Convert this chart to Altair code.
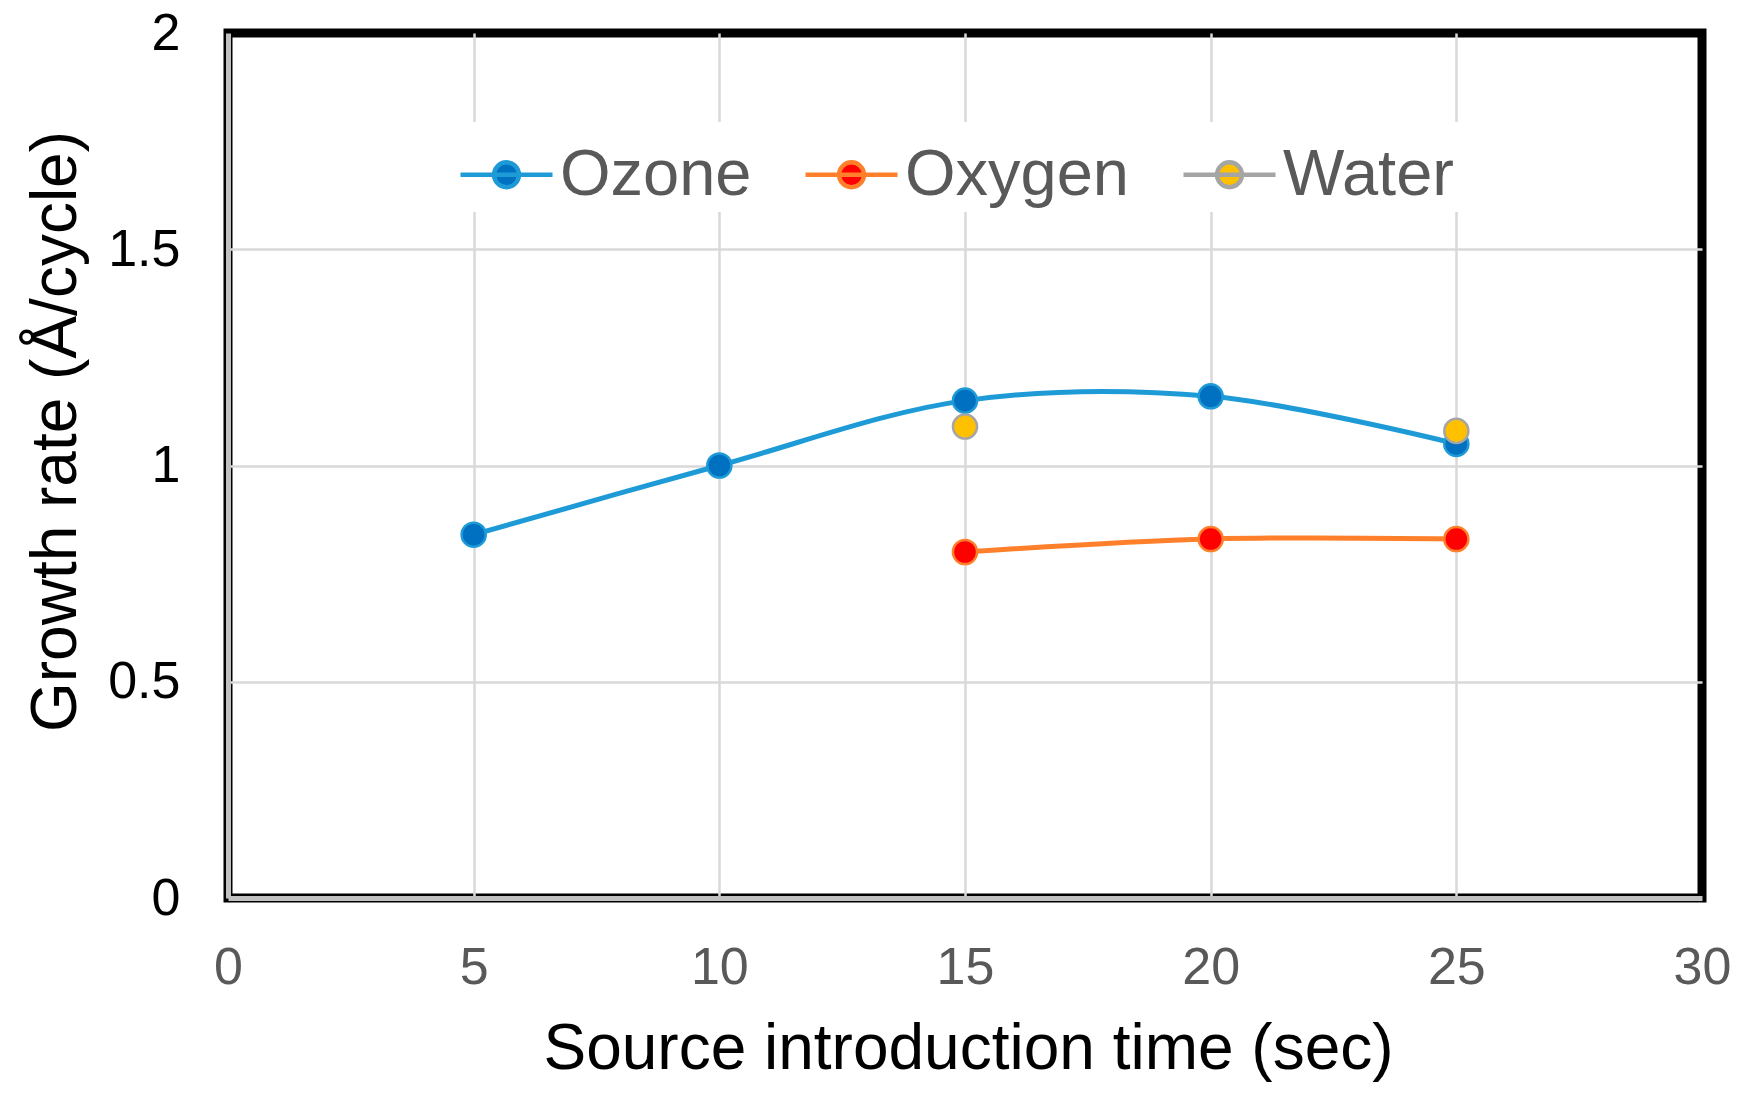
import altair as alt
import pandas as pd

# ---- data ----
x_vals = [5, 10, 15, 20, 25]
series_names = ["Ozone", "Oxygen", "Water"]
ozone = [0.84, 1.00, 1.15, 1.16, 1.05]
oxygen = [None, None, 0.80, 0.83, 0.83]
water = [None, None, 1.09, None, 1.08]

line_colors = ["#1e9bd7", "#ff7f2a", "#a5a5a5"]
marker_colors = ["#0070c0", "#ff0000", "#ffc000"]

x_ticks = [0, 5, 10, 15, 20, 25, 30]
y_ticks = [0, 0.5, 1, 1.5, 2]

rows = []
for name, vals in zip(series_names, [ozone, oxygen, water]):
    for xv, yv in zip(x_vals, vals):
        if yv is not None:
            rows.append({"series": name, "time": xv, "rate": yv})
df = pd.DataFrame(rows)

FONT = "Liberation Sans"
W, H = 1474, 865
GRID = "#d9d9d9"

legend_symbol = ("M-1,0L1,0 M0.27,0 A0.27,0.27 0 1,1 -0.27,0 "
                 "A0.27,0.27 0 1,1 0.27,0 Z")

leg = alt.Legend(
    title=None,
    orient="none",
    legendX=226,
    legendY=89,
    direction="horizontal",
    fillColor="white",
    padding=4,
    symbolType=legend_symbol,
    symbolSize=8464,
    symbolStrokeWidth=4.5,
    labelFontSize=65,
    labelFont=FONT,
    labelColor="#595959",
    labelOffset=5,
    labelLimit=0,
    columnPadding=44,
)

x_grid_color = alt.condition(
    "datum.value == 0 || datum.value == 30",
    alt.value("transparent"),
    alt.value(GRID),
)
y_grid_color = alt.condition(
    "datum.value == 0 || datum.value == 2",
    alt.value("transparent"),
    alt.value(GRID),
)

x_enc = alt.X(
    "time:Q",
    scale=alt.Scale(domain=[0, 30], nice=False),
    axis=alt.Axis(
        values=x_ticks,
        title="Source introduction time (sec)",
        titleFontSize=64,
        titleFont=FONT,
        titleFontWeight="normal",
        titleColor="black",
        titleBaseline="alphabetic",
        titleY=170,
        titleX=740,
        labelFontSize=52,
        labelFont=FONT,
        labelColor="#595959",
        labelBaseline="alphabetic",
        labelPadding=85,
        labelFlush=False,
        labelOverlap=False,
        ticks=False,
        tickSize=0,
        grid=True,
        gridColor=x_grid_color,
        gridWidth=2.5,
        domainColor="#c0c0c0",
        domainWidth=5,
    ),
)
y_enc = alt.Y(
    "rate:Q",
    scale=alt.Scale(domain=[0, 2], nice=False),
    axis=alt.Axis(
        values=y_ticks,
        format="~g",
        title="Growth rate (Å/cycle)",
        titleFontSize=64,
        titleFont=FONT,
        titleFontWeight="normal",
        titleColor="black",
        titleAngle=270,
        titleBaseline="alphabetic",
        titleAlign="center",
        titleX=-153,
        titleY=398,
        labelFontSize=52,
        labelFont=FONT,
        labelColor="black",
        labelPadding=48,
        labelFlush=False,
        labelOverlap=False,
        ticks=False,
        tickSize=0,
        grid=True,
        gridColor=y_grid_color,
        gridWidth=2.5,
        domainColor="#c0c0c0",
        domainWidth=5,
    ),
)

stroke_enc = alt.Stroke(
    "series:N",
    scale=alt.Scale(domain=series_names, range=line_colors),
    legend=leg,
)
fill_enc = alt.Fill(
    "series:N",
    scale=alt.Scale(domain=series_names, range=marker_colors),
    legend=leg,
)

base = alt.Chart(df)

lines = base.transform_filter(alt.datum.series != "Water").mark_line(
    interpolate="cardinal", strokeWidth=5
).encode(x=x_enc, y=y_enc, stroke=stroke_enc, detail="series:N")

points = base.mark_point(
    shape="circle", filled=True, size=580, strokeWidth=2.5, opacity=1
).encode(x=x_enc, y=y_enc, stroke=stroke_enc, fill=fill_enc)

chart = (
    alt.layer(lines, points)
    .properties(
        width=W,
        height=H,
        autosize=alt.AutoSizeParams(type="none"),
        padding={"left": 220, "top": 25, "right": 34, "bottom": 192},
    )
    .configure(font=FONT)
    .configure_view(stroke="black", strokeWidth=9)
)

chart.save("out.html", embed_options={"renderer": "svg", "actions": False})
